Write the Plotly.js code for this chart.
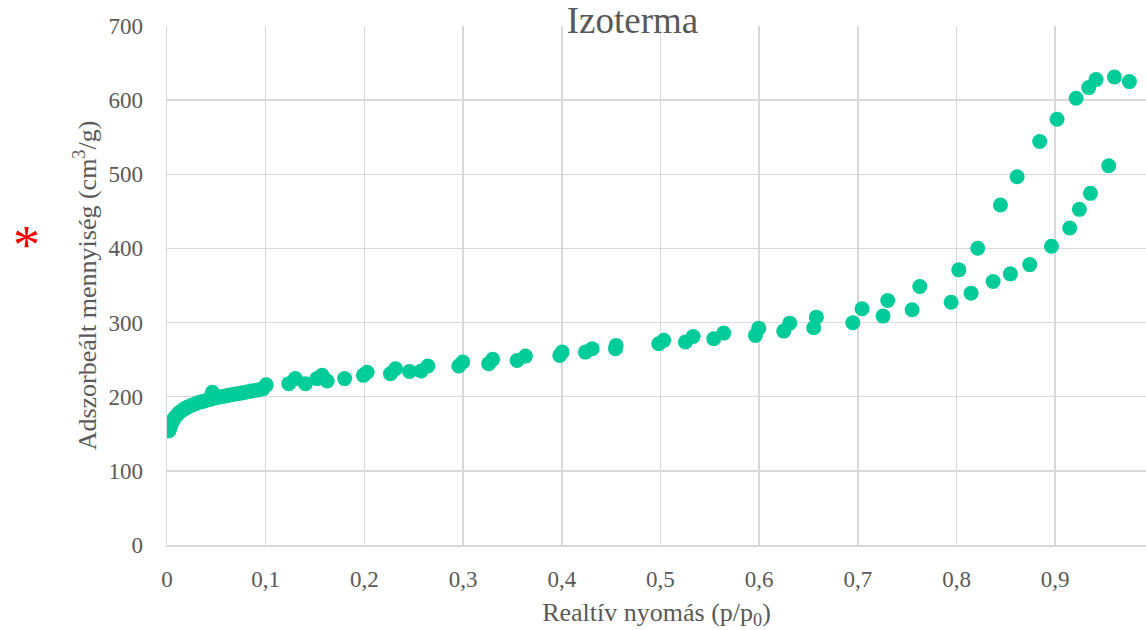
<!DOCTYPE html>
<html>
<head>
<meta charset="utf-8">
<script src="https://cdn.plot.ly/plotly-3.0.1.min.js"></script>
<style>
  html, body { margin: 0; padding: 0; background: #ffffff; }
  #chart { width: 1146px; height: 630px; }
</style>
</head>
<body>
<div id="chart"></div>
<script>
// Nitrogen physisorption isotherm: relative pressure vs. adsorbed quantity
const relPressure = [
  0.002, 0.003, 0.004, 0.005, 0.0065, 0.008, 0.010, 0.012, 0.015, 0.018,
  0.021, 0.025, 0.029, 0.033, 0.037, 0.041, 0.045, 0.046, 0.049, 0.053,
  0.057, 0.061, 0.065, 0.069, 0.073, 0.077, 0.081, 0.085, 0.089, 0.093,
  0.097, 0.1005,
  0.1234, 0.130, 0.1403, 0.152, 0.1572, 0.1623, 0.180, 0.199, 0.2028,
  0.2264, 0.2316, 0.2457, 0.2575, 0.2643, 0.2957, 0.2997, 0.326, 0.330,
  0.3548, 0.3632, 0.398, 0.4004, 0.424, 0.4308, 0.4544, 0.4551,
  0.4983, 0.5034, 0.5253, 0.5331, 0.554, 0.5641, 0.5962, 0.5996,
  0.6249, 0.631, 0.6553, 0.658, 0.6949, 0.7043, 0.7256, 0.7303,
  0.755, 0.7628, 0.7945, 0.8023, 0.8148, 0.8215, 0.8371, 0.8445,
  0.8546, 0.8614, 0.8742, 0.8843, 0.8962, 0.9019, 0.9147, 0.9212,
  0.9245, 0.934, 0.9357, 0.9414, 0.9542, 0.96, 0.9752
];
const quantityAdsorbed = [
  154, 158, 162, 165.5, 169, 172, 175, 178, 181, 184,
  186, 188.5, 190.5, 192.5, 194, 195.5, 197, 206, 198.5, 199.5,
  200.5, 201.5, 202.5, 203.5, 204.5, 205.5, 206.5, 207.5, 208.5, 209.5,
  210.5, 216,
  217.6, 224.4, 217.6, 224.4, 228.8, 221.2, 224.4, 228.8, 233,
  231, 237.8, 234, 234.6, 241.4, 241.4, 246.8, 244.6, 250.4,
  249, 254.8, 255.7, 260.2, 260.2, 264.7, 264.7, 269.2,
  271.5, 276, 273.7, 281.3, 278.2, 285.8, 282.7, 292.5,
  288.5, 299.2, 293, 307.3, 299.8, 318.6, 308.7, 329.8,
  317.3, 348.6, 327.5, 371.1, 339.7, 400.2, 355.4, 458.6,
  365.7, 496.7, 378.2, 544.2, 402.9, 574.3, 427.6, 602.6,
  452.7, 616.9, 474.3, 627.7, 511.5, 631.3, 625
];

const chartTitle = 'Izoterma';
const xTitle = 'Realtív nyomás (p/p<sub>0</sub>)';
const yTitle = 'Adszorbeált mennyiség (cm<sup>3</sup>/g)';

const textGrey = '#595959';
const gridGrey = '#d9d9d9';
const serif = 'Liberation Serif';

const trace = {
  type: 'scatter',
  mode: 'markers',
  x: relPressure,
  y: quantityAdsorbed,
  marker: { color: '#00CC99', size: 15, line: { width: 0 } },
  hoverinfo: 'x+y'
};

const layout = {
  width: 1146,
  height: 630,
  margin: { l: 167, r: 0, t: 26, b: 85, pad: 0 },
  paper_bgcolor: '#ffffff',
  plot_bgcolor: '#ffffff',
  separators: ',.',
  showlegend: false,
  font: { family: serif, color: textGrey, size: 23 },
  title: {
    text: chartTitle,
    font: { family: serif, size: 37, color: textGrey },
    xref: 'paper', x: 0.4755, xanchor: 'center',
    yref: 'container', y: 0.968, yanchor: 'middle'
  },
  xaxis: {
    range: [0, 0.992],
    dtick: 0.1,
    tick0: 0,
    showgrid: true,
    gridcolor: gridGrey,
    gridwidth: 1.5,
    zeroline: false,
    showline: true,
    linecolor: gridGrey,
    linewidth: 1.5,
    ticks: '',
    ticklabelstandoff: 13,
    tickfont: { family: serif, size: 23, color: textGrey },
    title: { text: xTitle, font: { family: serif, size: 26, color: textGrey }, standoff: 14 }
  },
  yaxis: {
    range: [0, 700],
    dtick: 100,
    showgrid: true,
    gridcolor: gridGrey,
    gridwidth: 1.5,
    zeroline: false,
    showline: true,
    linecolor: gridGrey,
    linewidth: 1.5,
    ticks: '',
    ticklabelstandoff: 18,
    tickfont: { family: serif, size: 23, color: textGrey },
    title: { text: yTitle, font: { family: serif, size: 26, color: textGrey }, standoff: 4 }
  },
  annotations: [
    {
      text: '*',
      xref: 'paper', yref: 'paper',
      x: -0.1433, y: 0.592,
      xanchor: 'center', yanchor: 'middle',
      yshift: -7,
      showarrow: false,
      font: { family: serif, size: 54, color: '#ff0000' }
    }
  ]
};

Plotly.newPlot('chart', [trace], layout, { displayModeBar: false, staticPlot: true });
</script>
</body>
</html>
